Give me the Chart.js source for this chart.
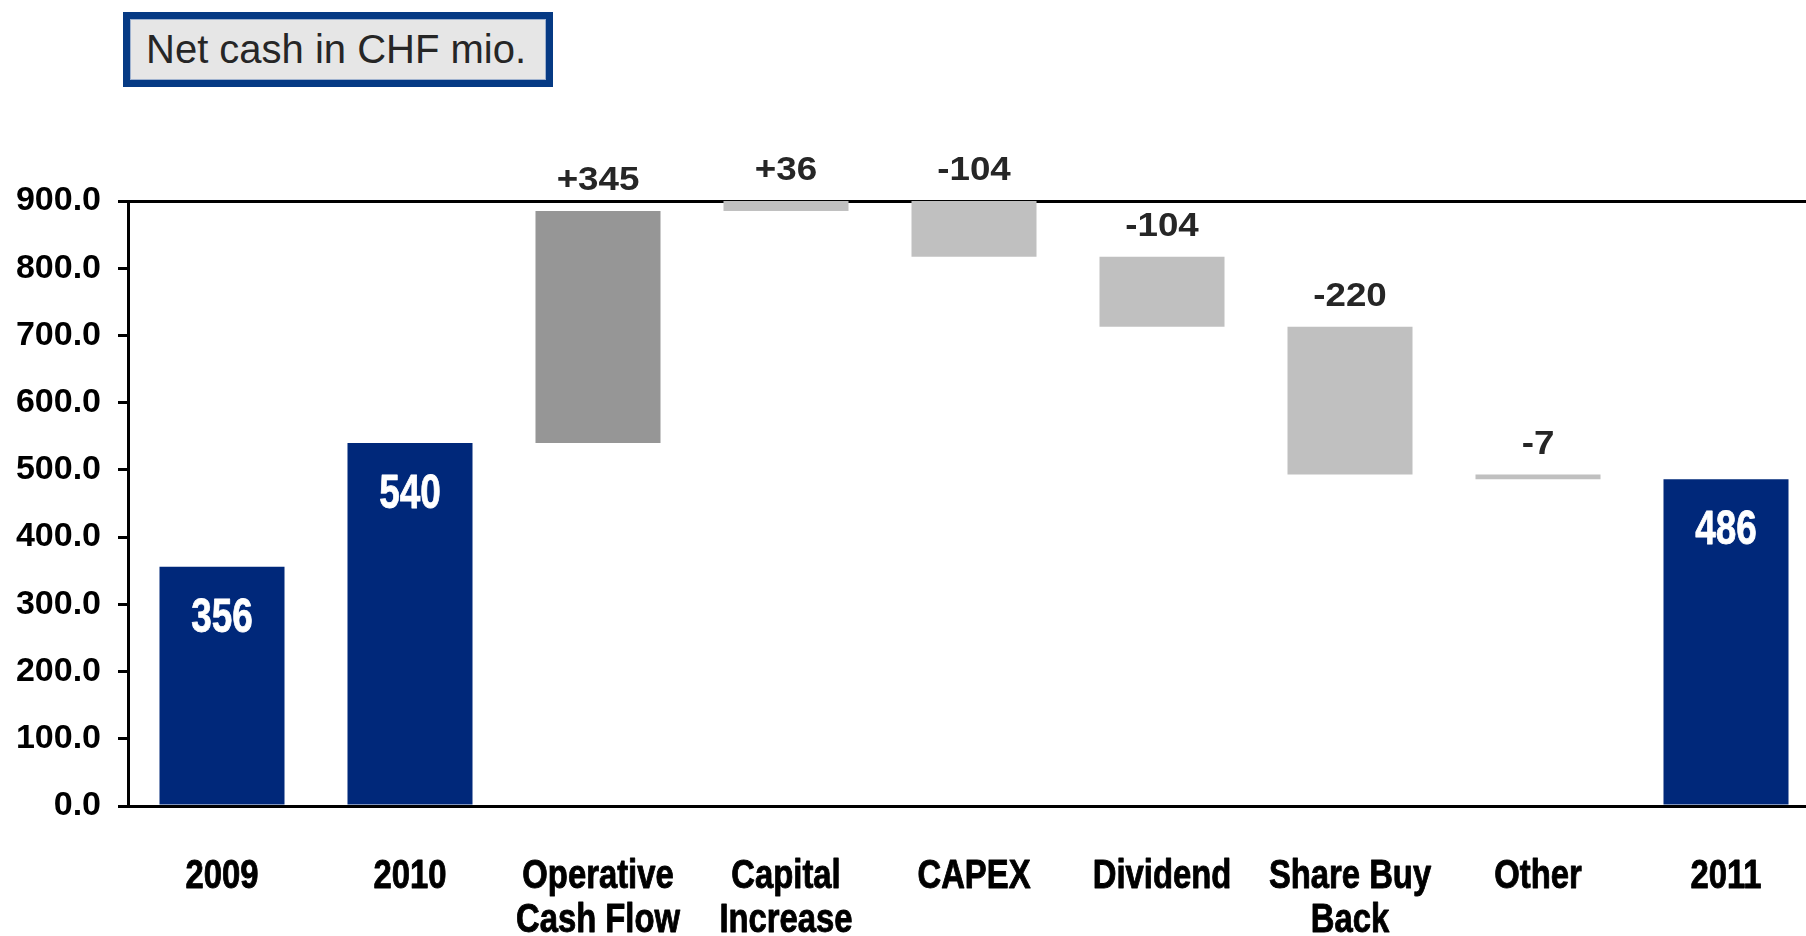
<!DOCTYPE html>
<html>
<head>
<meta charset="utf-8">
<script src="https://cdn.jsdelivr.net/npm/chart.js@4"></script>
<style>
  html, body { margin: 0; padding: 0; background: #fff; overflow: hidden; }
  #wrap { position: relative; width: 1820px; height: 936px; }
  #title {
    position: absolute; left: 123px; top: 12px; width: 430px; height: 75px;
    box-sizing: border-box; border: 7px solid #063a84; background: #e6e6e6;
    box-shadow: inset 0 0 0 1px #9fb2cf;
    font-family: 'Liberation Sans', Arial, sans-serif; font-size: 40px; color: #262626;
    line-height: 61px; padding-left: 16px; white-space: nowrap;
  }
</style>
</head>
<body>
<div id="wrap">
  <canvas id="chart"></canvas>
  <div id="title">Net cash in CHF mio.</div>
</div>
<script>
// Net cash bridge 2009 -> 2011 (CHF mio.)
const categories = [['2009'], ['2010'], ['Operative', 'Cash Flow'], ['Capital', 'Increase'], ['CAPEX'], ['Dividend'], ['Share Buy', 'Back'], ['Other'], ['2011']];
const values = [356, 540, 345, 36, -104, -104, -220, -7, 486];
const isTotal = [true, true, false, false, false, false, false, false, true];
const yTicks = [0, 100, 200, 300, 400, 500, 600, 700, 800, 900];

const barColors = ['#00287a', '#00287a', '#969696', '#c0c0c0', '#c0c0c0', '#c0c0c0', '#c0c0c0', '#c0c0c0', '#00287a'];
const sans = "'Liberation Sans', Arial, sans-serif";

// floating ranges for the waterfall
let running = 0;
const ranges = values.map((v, i) => {
    if (isTotal[i]) { running = v; return [0, v]; }
    const r = [running, running + v];
    running += v;
    return r;
});

// scale Liberation Sans Bold horizontally (Arial Narrow look etc.)
function squeezedText(ctx, text, x, y, size, squeeze, heavy) {
    ctx.save();
    ctx.translate(x, y);
    ctx.scale(squeeze, 1);
    ctx.font = 'bold ' + size + 'px ' + sans;
    ctx.fillText(text, 0, 0);
    if (heavy) {
        ctx.strokeStyle = ctx.fillStyle;
        ctx.lineWidth = heavy;
        ctx.lineJoin = 'round';
        ctx.strokeText(text, 0, 0);
    }
    ctx.restore();
}

const barLabels = {
    id: 'barLabels',
    afterDatasetsDraw(chart) {
        const ctx = chart.ctx;
        const meta = chart.getDatasetMeta(0);
        const area = chart.chartArea;
        ctx.save();
        ctx.textAlign = 'center';
        ctx.textBaseline = 'alphabetic';
        meta.data.forEach((bar, i) => {
            const v = values[i];
            const top = Math.min(bar.y, bar.base);
            if (isTotal[i]) {
                ctx.fillStyle = '#ffffff';
                squeezedText(ctx, String(v), bar.x, top + 65, 48, 0.77, 0.8);
            } else {
                ctx.fillStyle = '#262626';
                squeezedText(ctx, (v > 0 ? '+' : '') + v, bar.x, Math.max(top, area.top) - 21, 34, 1.08, 0);
            }
        });
        ctx.restore();
    }
};

const categoryLabels = {
    id: 'categoryLabels',
    afterDraw(chart) {
        const ctx = chart.ctx;
        const xs = chart.scales.x;
        ctx.save();
        ctx.fillStyle = '#000';
        ctx.textAlign = 'center';
        ctx.textBaseline = 'alphabetic';
        categories.forEach((lines, i) => {
            const x = xs.getPixelForTick(i);
            lines.forEach((line, j) => {
                squeezedText(ctx, line, x, xs.top + 82 + j * 44, 40, 0.82, 0.9);
            });
        });
        ctx.restore();
    }
};

new Chart(document.getElementById('chart'), {
    type: 'bar',
    data: {
        labels: categories,
        datasets: [{
            data: ranges,
            backgroundColor: barColors,
            borderWidth: 0,
            barPercentage: 0.665,
            categoryPercentage: 1.0
        }]
    },
    options: {
        responsive: true,
        maintainAspectRatio: false,
        animation: false,
        layout: { padding: { top: 201, left: 0, right: 0, bottom: 0 } },
        plugins: {
            legend: { display: false },
            tooltip: { enabled: false }
        },
        scales: {
            x: {
                grid: { display: false, drawTicks: false },
                border: { display: true, color: '#000', width: 3 },
                ticks: { display: false },
                afterFit(scale) { scale.height = 130; }
            },
            y: {
                min: 0,
                max: 900,
                afterBuildTicks(scale) { scale.ticks = yTicks.map(v => ({ value: v })); },
                grid: {
                    drawOnChartArea: true,
                    color: c => (c.tick && c.tick.value === 900 ? '#000' : 'rgba(0,0,0,0)'),
                    lineWidth: 3,
                    tickLength: 10,
                    tickColor: '#000',
                    tickWidth: 3
                },
                border: { display: true, color: '#000', width: 3 },
                ticks: {
                    color: '#000',
                    font: { family: sans, size: 34, weight: 'bold' },
                    padding: 17,
                    callback: v => Number(v).toFixed(1)
                },
                afterFit(scale) { scale.width = 128; }
            }
        }
    },
    plugins: [barLabels, categoryLabels]
});
</script>
</body>
</html>
